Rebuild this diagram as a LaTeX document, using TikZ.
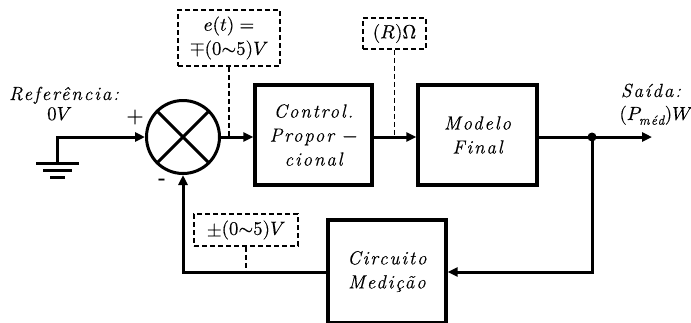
\documentclass[tikz,border=0pt]{standalone}
\usepackage{amsmath}
\usepackage{fontspec}
\usepackage{unicode-math}
\setmathfont[FakeBold=0.3]{Latin Modern Math}
\usetikzlibrary{arrows.meta}
\newfontfamily\lblfont[LetterSpace=10,FakeBold=0.3]{Latin Modern Roman}
\newcommand\lbltxt{\lblfont\itshape\fontsize{19}{24}\selectfont}
\tikzset{
  wire/.style={line width=3pt},
  arr/.style={wire,-{Triangle[length=10pt,width=9pt]}},
  blk/.style={draw,line width=3.2pt,inner sep=0pt,align=center,font=\lbltxt},
  dbox/.style={draw,line width=1.5pt,dash pattern=on 5pt off 3pt,inner sep=0pt,align=center,font=\lbltxt},
  dline/.style={line width=1.5pt,dash pattern=on 5pt off 3pt},
  lbl/.style={inner sep=0pt,align=center,font=\lbltxt}
}
\begin{document}
\begin{tikzpicture}[x=1pt,y=-1pt]
\useasboundingbox (0,0) rectangle (691,322);

% summing junction
\node[circle,draw,line width=3pt,minimum size=73pt,inner sep=0pt] (sum) at (183,137) {};
\draw[wire] (sum.45) -- (sum.225) (sum.135) -- (sum.-45);

% blocks
\node[blk,minimum width=117pt,minimum height=100pt] (ctrl) at (313.5,135)
  {Control.\\Propor $-$\\cional};
\node[blk,minimum width=119pt,minimum height=100pt] (model) at (477.5,135)
  {Modelo\\Final};
\node[blk,minimum width=118pt,minimum height=103pt] (meas) at (387,271.5)
  {Circuito\\Medição};

% dashed signal annotations
\node[dbox,minimum width=102pt,minimum height=56pt] (eb) at (229,38)
  {$e(t) =$\\$\mp(0{\sim}5)V$};
\node[dbox,minimum width=63pt,minimum height=31pt] (rb) at (394.5,33.5)
  {$(R)\Omega$};
\node[dbox,minimum width=104pt,minimum height=32pt] (fbb) at (246,230)
  {$\pm(0{\sim}5)V$};

% ground reference
\coordinate (gnd) at (57,163);
\draw[wire] ([xshift=-21pt]gnd) -- ([xshift=22pt]gnd);
\draw[wire] ([xshift=-14pt,yshift=-7pt]gnd) -- ([xshift=15pt,yshift=-7pt]gnd);
\draw[wire] ([xshift=-7pt,yshift=-14pt]gnd) -- ([xshift=8pt,yshift=-14pt]gnd);
\draw[arr] (gnd) |- (sum.west);

% forward path
\draw[arr] (sum.east) -- (sum.east -| ctrl.west);
\draw[arr] (sum.east -| ctrl.east) -- (sum.east -| model.west);
\coordinate (j) at (592,137);
\coordinate (out) at (652,137);
\draw[arr] (sum.east -| model.east) -- (out);
\fill (j) circle (4.5pt);

% feedback path
\coordinate (fb) at (592,272);
\draw[arr] (j) -- (fb) -- (fb -| meas.east);
\draw[arr] (fb -| meas.west) -| (sum.south);

% dashed leaders
\draw[dline] (eb.south) -- (eb.south |- sum.east);
\draw[dline] (rb.south) -- (rb.south |- sum.east);
\draw[dline] (fbb.south) -- (fbb.south |- fb);

% text labels
\node[lbl,anchor=base] (reftxt) at (64,100) {Referência:};
\node[lbl,anchor=base] (zero) at (59.5,120) {$0V$};
\node[lbl,anchor=base] (outtxt) at (651,97) {Saída:};
\node[lbl,anchor=base] (outval) at (656,120) {$(P_{\text{\itshape méd}})W$};
\node[inner sep=0pt,font=\fontsize{20}{22}\selectfont\bfseries] (plus) at (135,118) {+};
\node[inner sep=0pt,font=\fontsize{20}{22}\selectfont\bfseries] (minus) at (162,182) {-};
\end{tikzpicture}
\end{document}
